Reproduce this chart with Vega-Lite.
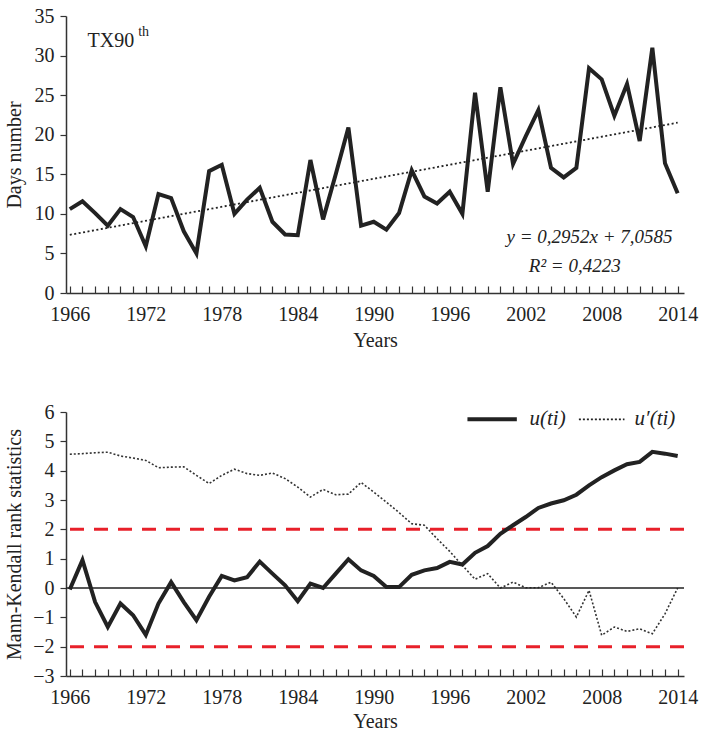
{
  "$schema": "https://vega.github.io/schema/vega-lite/v6.json",
  "background": "white",
  "padding": {"left": 4, "top": 6, "right": 10, "bottom": 2},
  "spacing": 52,
  "config": {
    "font": "Liberation Serif",
    "view": {"stroke": null},
    "axis": {
      "labelFont": "Liberation Serif", "labelFontSize": 20, "labelColor": "#222", "labelOverlap": false, "labelFlush": false, "labelBound": false, "labelSeparation": 0,
      "titleFont": "Liberation Serif", "titleFontSize": 20, "titleFontWeight": "normal", "titleColor": "#222",
      "domainColor": "#333", "domainWidth": 1.5, "tickColor": "#333", "tickWidth": 1.2, "grid": false
    }
  },
  "datasets": {
    "series": [
      {"year": 1966, "days": 10.6, "u": -0.05, "up": 4.56},
      {"year": 1967, "days": 11.6, "u": 0.95, "up": 4.58},
      {"year": 1968, "days": 10.1, "u": -0.48, "up": 4.61},
      {"year": 1969, "days": 8.5, "u": -1.33, "up": 4.63},
      {"year": 1970, "days": 10.6, "u": -0.53, "up": 4.5},
      {"year": 1971, "days": 9.6, "u": -0.93, "up": 4.43},
      {"year": 1972, "days": 5.9, "u": -1.6, "up": 4.35},
      {"year": 1973, "days": 12.5, "u": -0.53, "up": 4.1},
      {"year": 1974, "days": 12.0, "u": 0.2, "up": 4.12},
      {"year": 1975, "days": 7.8, "u": -0.48, "up": 4.13},
      {"year": 1976, "days": 5.0, "u": -1.1, "up": 3.84},
      {"year": 1977, "days": 15.4, "u": -0.3, "up": 3.56},
      {"year": 1978, "days": 16.2, "u": 0.41, "up": 3.84},
      {"year": 1979, "days": 10.0, "u": 0.26, "up": 4.05},
      {"year": 1980, "days": 11.8, "u": 0.37, "up": 3.9},
      {"year": 1981, "days": 13.3, "u": 0.9, "up": 3.84},
      {"year": 1982, "days": 9.0, "u": 0.49, "up": 3.92},
      {"year": 1983, "days": 7.4, "u": 0.09, "up": 3.73},
      {"year": 1984, "days": 7.3, "u": -0.45, "up": 3.44},
      {"year": 1985, "days": 16.8, "u": 0.15, "up": 3.1},
      {"year": 1986, "days": 9.3, "u": 0.0, "up": 3.36},
      {"year": 1987, "days": 15.0, "u": 0.49, "up": 3.18},
      {"year": 1988, "days": 20.9, "u": 0.98, "up": 3.2},
      {"year": 1989, "days": 8.5, "u": 0.6, "up": 3.6},
      {"year": 1990, "days": 9.0, "u": 0.41, "up": 3.27},
      {"year": 1991, "days": 8.0, "u": 0.03, "up": 2.93},
      {"year": 1992, "days": 10.1, "u": 0.03, "up": 2.57},
      {"year": 1993, "days": 15.5, "u": 0.45, "up": 2.19},
      {"year": 1994, "days": 12.2, "u": 0.6, "up": 2.14},
      {"year": 1995, "days": 11.3, "u": 0.68, "up": 1.68},
      {"year": 1996, "days": 12.8, "u": 0.89, "up": 1.25},
      {"year": 1997, "days": 10.0, "u": 0.8, "up": 0.77},
      {"year": 1998, "days": 25.3, "u": 1.2, "up": 0.3},
      {"year": 1999, "days": 12.8, "u": 1.43, "up": 0.49},
      {"year": 2000, "days": 26.0, "u": 1.85, "up": 0.0},
      {"year": 2001, "days": 16.3, "u": 2.14, "up": 0.2},
      {"year": 2002, "days": 19.8, "u": 2.42, "up": 0.01},
      {"year": 2003, "days": 23.1, "u": 2.73, "up": 0.01},
      {"year": 2004, "days": 15.8, "u": 2.88, "up": 0.2},
      {"year": 2005, "days": 14.6, "u": 2.99, "up": -0.36},
      {"year": 2006, "days": 15.8, "u": 3.18, "up": -0.99},
      {"year": 2007, "days": 28.4, "u": 3.5, "up": -0.08},
      {"year": 2008, "days": 27.0, "u": 3.78, "up": -1.61},
      {"year": 2009, "days": 22.4, "u": 4.01, "up": -1.33},
      {"year": 2010, "days": 26.4, "u": 4.22, "up": -1.48},
      {"year": 2011, "days": 19.2, "u": 4.3, "up": -1.39},
      {"year": 2012, "days": 31.0, "u": 4.64, "up": -1.56},
      {"year": 2013, "days": 16.4, "u": 4.58, "up": -0.88},
      {"year": 2014, "days": 12.6, "u": 4.5, "up": 0.0}
    ],
    "trend": [{"year": 1966, "fit": 7.35}, {"year": 2014, "fit": 21.52}],
    "limits": [{"level": 2}, {"level": -2}, {"level": 0}]
  },
  "vconcat": [
    {
      "width": 618, "height": 277,
      "encoding": {
        "x": {"field": "year", "type": "quantitative",
          "scale": {"domain": [1965.7, 2014.5], "nice": false, "zero": false},
          "axis": {"title": "Years", "tickCount": 49, "values": [1966,1967,1968,1969,1970,1971,1972,1973,1974,1975,1976,1977,1978,1979,1980,1981,1982,1983,1984,1985,1986,1987,1988,1989,1990,1991,1992,1993,1994,1995,1996,1997,1998,1999,2000,2001,2002,2003,2004,2005,2006,2007,2008,2009,2010,2011,2012,2013,2014],
            "labelExpr": "(datum.value - 1966) % 6 == 0 ? '' + datum.value : ''", "tickSize": -7, "labelPadding": 18, "titlePadding": 6, "labelOverlap": false}}
      },
      "layer": [
        {
          "data": {"name": "series"},
          "mark": {"type": "line", "color": "#222", "strokeWidth": 4, "strokeJoin": "miter"},
          "encoding": {
            "y": {"field": "days", "type": "quantitative",
              "scale": {"domain": [0, 35], "nice": false},
              "axis": {"title": "Days number", "tickCount": 8, "values": [0,5,10,15,20,25,30,35], "tickSize": 6, "labelPadding": 6, "titlePadding": 10, "labelOverlap": false}}
          }
        },
        {
          "data": {"name": "trend"},
          "mark": {"type": "line", "color": "#222", "strokeWidth": 1.8, "strokeDash": [2, 2.5]},
          "encoding": {"y": {"field": "fit", "type": "quantitative"}}
        },
        {
          "data": {"values": [{"year": 1967.4, "v": 31.8, "txt": "TX90"}]},
          "mark": {"type": "text", "align": "left", "baseline": "middle", "fontSize": 20, "color": "#222", "font": "Liberation Serif"},
          "encoding": {"y": {"field": "v", "type": "quantitative"}, "text": {"field": "txt"}}
        },
        {
          "data": {"values": [{"year": 1971.4, "v": 33.0, "txt": "th"}]},
          "mark": {"type": "text", "align": "left", "baseline": "middle", "fontSize": 14, "color": "#222", "font": "Liberation Serif"},
          "encoding": {"y": {"field": "v", "type": "quantitative"}, "text": {"field": "txt"}}
        },
        {
          "data": {"values": [
            {"year": 2013.6, "v": 7.1, "txt": "y = 0,2952x + 7,0585"},
            {"year": 2009.5, "v": 3.4, "txt": "R² = 0,4223"}
          ]},
          "mark": {"type": "text", "align": "right", "baseline": "middle", "fontSize": 19, "fontStyle": "italic", "color": "#222", "font": "Liberation Serif"},
          "encoding": {"y": {"field": "v", "type": "quantitative"}, "text": {"field": "txt"}}
        }
      ]
    },
    {
      "width": 618, "height": 264,
      "encoding": {
        "x": {"field": "year", "type": "quantitative",
          "scale": {"domain": [1965.7, 2014.5], "nice": false, "zero": false},
          "axis": {"title": "Years", "tickCount": 49, "values": [1966,1967,1968,1969,1970,1971,1972,1973,1974,1975,1976,1977,1978,1979,1980,1981,1982,1983,1984,1985,1986,1987,1988,1989,1990,1991,1992,1993,1994,1995,1996,1997,1998,1999,2000,2001,2002,2003,2004,2005,2006,2007,2008,2009,2010,2011,2012,2013,2014],
            "labelExpr": "(datum.value - 1966) % 6 == 0 ? '' + datum.value : ''", "tickSize": -7, "labelPadding": 18, "titlePadding": 4, "labelOverlap": false}}
      },
      "layer": [
        {
          "data": {"name": "series"},
          "mark": {"type": "line", "color": "#333", "strokeWidth": 1.6, "strokeDash": [2, 2]},
          "encoding": {
            "y": {"field": "up", "type": "quantitative",
              "scale": {"domain": [-3, 6], "nice": false},
              "axis": {"title": "Mann-Kendall rank statistics", "tickCount": 10, "values": [-3,-2,-1,0,1,2,3,4,5,6], "tickSize": 6, "labelPadding": 6, "titlePadding": 8, "labelOverlap": false}}
          }
        },
        {
          "data": {"name": "limits"},
          "mark": {"type": "rule"},
          "encoding": {
            "x": null,
            "y": {"field": "level", "type": "quantitative"},
            "color": {"condition": {"test": "datum.level == 0", "value": "#222"}, "value": "#e8202a"},
            "strokeWidth": {"condition": {"test": "datum.level == 0", "value": 1.3}, "value": 3},
            "strokeDash": {"condition": {"test": "datum.level == 0", "value": [1, 0]}, "value": [14, 10]}
          }
        },
        {
          "data": {"name": "series"},
          "mark": {"type": "line", "color": "#222", "strokeWidth": 4},
          "encoding": {"y": {"field": "u", "type": "quantitative"}}
        },
        {
          "data": {"values": [{"year": 1997.4, "v": 5.75, "s": "u"}, {"year": 2001.3, "v": 5.75, "s": "u"}, {"year": 2006.2, "v": 5.75, "s": "up"}, {"year": 2009.8, "v": 5.75, "s": "up"}]},
          "mark": {"type": "line"},
          "encoding": {
            "y": {"field": "v", "type": "quantitative"},
            "detail": {"field": "s"},
            "color": {"value": "#222"},
            "strokeWidth": {"condition": {"test": "datum.s == 'u'", "value": 4}, "value": 1.6},
            "strokeDash": {"condition": {"test": "datum.s == 'u'", "value": [1, 0]}, "value": [2, 2]}
          }
        },
        {
          "data": {"values": [{"year": 2002.3, "v": 5.75, "txt": "u(ti)"}, {"year": 2010.6, "v": 5.75, "txt": "u′(ti)"}]},
          "mark": {"type": "text", "align": "left", "baseline": "middle", "fontSize": 21, "fontStyle": "italic", "color": "#222", "font": "Liberation Serif"},
          "encoding": {"y": {"field": "v", "type": "quantitative"}, "text": {"field": "txt"}}
        }
      ]
    }
  ]
}
